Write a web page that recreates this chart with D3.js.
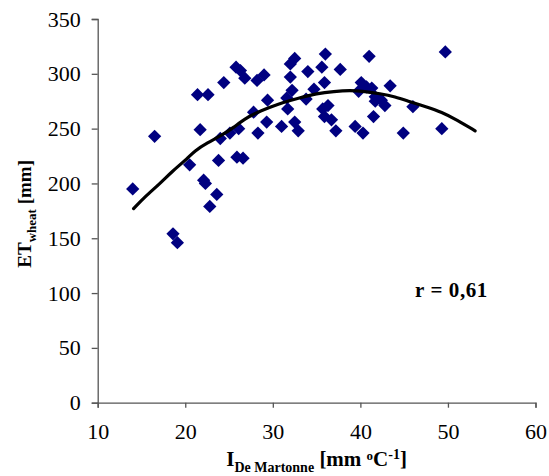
<!DOCTYPE html>
<html>
<head>
<meta charset="utf-8">
<script src="https://cdn.jsdelivr.net/npm/d3@7"></script>
<style>
  body { margin: 0; background: #fff; }
  text { font-family: "Liberation Serif", "Times New Roman", serif; }
</style>
</head>
<body>
<div id="chart"></div>
<script>
var pointX = [14.0, 16.5, 18.6, 19.1, 20.5, 21.7, 21.4, 22.6, 22.1, 22.3, 22.8, 23.6, 23.8, 24.4,
  24.0, 25.9, 26.6, 25.1, 26.1, 25.8, 26.3, 26.8, 28.2, 29.0, 27.8, 28.3, 29.3, 29.4,
  32.5, 32.0, 36.0, 41.0, 49.7, 34.0, 35.6, 37.7, 32.0, 35.9, 40.1, 40.7, 41.3, 43.4,
  32.2, 34.7, 39.8, 41.7, 42.4, 41.7, 42.8, 33.8, 31.6, 31.7, 35.7, 36.3, 46.0, 35.9,
  36.7, 41.5, 31.0, 32.5, 32.9, 37.2, 39.4, 40.3, 44.9, 49.3];
var pointY = [195, 243, 154, 146, 217, 249, 281, 281, 203, 200, 179, 190, 221, 292,
  241, 224, 223, 246, 250, 306, 303, 296, 294, 299, 265, 246, 256, 276,
  314, 309, 318, 316, 320, 302, 306, 304, 297, 292, 292, 288, 287, 289,
  285, 286, 284, 279, 276, 275, 271, 277, 278, 268, 268, 271, 270, 261,
  258, 261, 252, 256, 248, 248, 252, 246, 246, 250];

// trend line
var trendX = [14.1, 15.4, 17.0, 18.5, 20.0, 21.1, 22.5, 24.2, 25.5, 26.8, 28.0, 29.5, 31.2,
  33.0, 35.0, 37.0, 38.8, 40.5, 42.2, 44.0, 45.5, 47.5, 49.3, 51.0, 53.1];
var trendY = [177, 188, 199, 211, 221, 230, 237, 244, 251, 259, 264, 269, 274,
  278, 282, 284, 285, 284, 282, 279, 275, 270, 265, 258, 248];

var xTicks = [10, 20, 30, 40, 50, 60];
var yTicks = [0, 50, 100, 150, 200, 250, 300, 350];

var W = 549, H = 476;
var margin = {top: 19, right: 13.5, bottom: 73.3, left: 97.7};
var width = W - margin.left - margin.right,
    height = H - margin.top - margin.bottom;

var svg = d3.select('#chart').append('svg')
  .attr('width', W)
  .attr('height', H);

var g = svg.append('g')
  .attr('transform', 'translate(' + margin.left + ',' + margin.top + ')');

var x = d3.scaleLinear().domain([10, 60]).range([0, width]);
var y = d3.scaleLinear().domain([0, 350]).range([height, 0]);

// axes
var xAxis = g.append('g')
  .attr('transform', 'translate(0,' + height + ')')
  .call(d3.axisBottom(x).tickValues(xTicks).tickSize(5).tickPadding(16));
var yAxis = g.append('g')
  .call(d3.axisLeft(y).tickValues(yTicks).tickSize(6).tickPadding(11));

[xAxis, yAxis].forEach(function(a) {
  a.select('.domain').attr('stroke', '#555').attr('stroke-width', 1.3);
  a.selectAll('.tick line').attr('stroke', '#555').attr('stroke-width', 1.3);
  a.selectAll('.tick text')
    .attr('fill', '#000')
    .style('font-size', '22px')
    .style('font-family', '"Liberation Serif", serif');
});

// points
var pts = pointX.map(function(d, i) { return [d, pointY[i]]; });
var diamond = d3.symbol().type(d3.symbolSquare).size(88);
g.selectAll('.pt').data(pts).enter().append('path')
  .attr('class', 'pt')
  .attr('d', diamond)
  .attr('transform', function(d) { return 'translate(' + x(d[0]) + ',' + y(d[1]) + ') rotate(45)'; })
  .attr('fill', '#000080');

// trend line
var trend = trendX.map(function(d, i) { return [d, trendY[i]]; });
g.append('path')
  .datum(trend)
  .attr('fill', 'none')
  .attr('stroke', '#000')
  .attr('stroke-width', 3.2)
  .attr('stroke-linecap', 'round')
  .attr('d', d3.line()
    .x(function(d) { return x(d[0]); })
    .y(function(d) { return y(d[1]); })
    .curve(d3.curveBasis));

// r label
svg.append('text')
  .attr('x', 415)
  .attr('y', 297)
  .style('font-size', '21px')
  .style('font-weight', 'bold')
  .style('letter-spacing', '0.6px')
  .text('r = 0,61');

// x title
var xt = svg.append('text')
  .attr('x', margin.left + width / 2)
  .attr('y', 466)
  .attr('text-anchor', 'middle')
  .style('font-size', '21px')
  .style('font-weight', 'bold');
xt.append('tspan').text('I');
xt.append('tspan').attr('dy', 6).style('font-size', '14px').text('De Martonne');
xt.append('tspan').attr('dy', -6).text(' [mm ');
xt.append('tspan').attr('dy', -6).style('font-size', '13px').text('o');
xt.append('tspan').attr('dy', 6).text('C');
xt.append('tspan').attr('dy', -7).style('font-size', '14px').text('-1');
xt.append('tspan').attr('dy', 7).text(']');

// y title
var yt = svg.append('text')
  .attr('transform', 'translate(31,' + (margin.top + height / 2 + 3) + ') rotate(-90)')
  .attr('text-anchor', 'middle')
  .style('font-size', '19px')
  .style('font-weight', 'bold');
yt.append('tspan').text('ET');
yt.append('tspan').attr('dy', 5).style('font-size', '13px').text('wheat');
yt.append('tspan').attr('dy', -5).text(' [mm]');
</script>
</body>
</html>
